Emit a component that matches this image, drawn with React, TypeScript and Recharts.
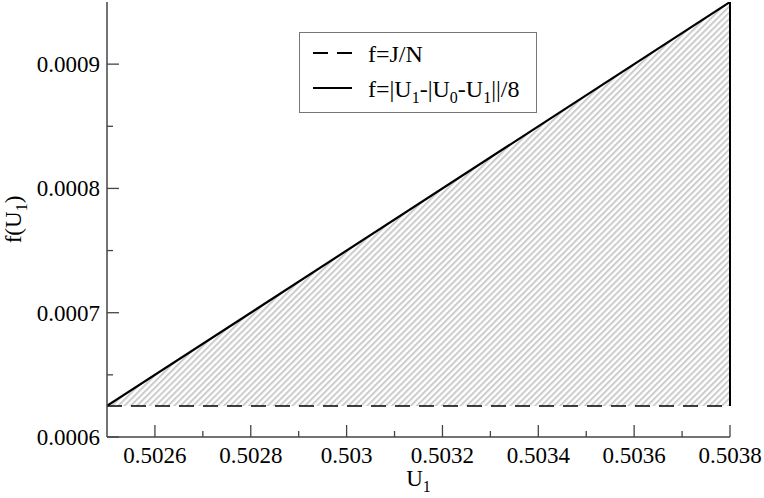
import React from 'react';
import { ComposedChart, Area, Line, XAxis, YAxis, ReferenceLine, Legend } from 'recharts';

// ---- data ----
const uValues = [0.5025, 0.5038];
const jOverN = [0.000625, 0.000625];
const fUpper = [0.000625, 0.00095];
const seriesNames = ['f=J/N', 'f=|U1-|U0-U1||/8'];
const xDomain = [0.5025, 0.5038];
const yDomain = [0.0006, 0.00095];
const xTicks = [0.5026, 0.5027, 0.5028, 0.5029, 0.503, 0.5031, 0.5032, 0.5033, 0.5034, 0.5035, 0.5036, 0.5037, 0.5038];
const xLabelled = [0.5026, 0.5028, 0.503, 0.5032, 0.5034, 0.5036, 0.5038];
const yTicks = [0.0006, 0.00065, 0.0007, 0.00075, 0.0008, 0.00085, 0.0009];
const yLabelled = [0.0006, 0.0007, 0.0008, 0.0009];

const data = uValues.map((u, i) => ({
  u,
  lower: jOverN[i],
  upper: fUpper[i],
  band: [jOverN[i], fUpper[i]],
}));

const FONT = 'Liberation Serif, Tinos, DejaVu Serif, serif';
const FRAME = '#444';
const MAJOR = 12;
const MINOR = 6;

const isIn = (v: number, list: number[]) => list.some((m) => Math.abs(m - v) < 1e-9);

// split "U1" style parts into subscripted tspans; the baseline is restored on the next piece
const withSubs = (s: string, size: number) => {
  const parts = s.split(/(U\d)/).filter((p) => p !== '');
  const out: any[] = [];
  const shift = Math.round(size * 0.25);
  let pending = 0;
  parts.forEach((p, i) => {
    const m = /^U(\d)$/.exec(p);
    if (m) {
      out.push(
        <tspan key={i + 'a'} dy={pending || undefined}>
          U
        </tspan>
      );
      out.push(
        <tspan key={i + 'b'} fontSize={Math.round(size * 0.68)} dy={shift}>
          {m[1]}
        </tspan>
      );
      pending = -shift;
    } else {
      out.push(
        <tspan key={i} dy={pending || undefined}>
          {p}
        </tspan>
      );
      pending = 0;
    }
  });
  return out;
};

const makeTick = (side: string, labelled: number[], showLabel: boolean) => (props: any) => {
  const { x, y, payload } = props;
  const v = payload.value;
  const major = isIn(v, labelled);
  const len = major ? MAJOR : MINOR;
  let x2 = x;
  let y2 = y;
  if (side === 'left') x2 = x + len;
  else if (side === 'right') x2 = x - len;
  else if (side === 'bottom') y2 = y - len;
  else y2 = y + len;
  let label = null;
  if (showLabel && major) {
    if (side === 'left') {
      label = (
        <text x={x - 7} y={y} dy="0.35em" textAnchor="end" fontFamily={FONT} fontSize={23} fill="#000">
          {String(v)}
        </text>
      );
    } else {
      label = (
        <text x={x} y={y + 26} textAnchor="middle" fontFamily={FONT} fontSize={23} fill="#000">
          {String(v)}
        </text>
      );
    }
  }
  return (
    <g>
      <line x1={x} y1={y} x2={x2} y2={y2} stroke={FRAME} strokeWidth={1.3} />
      {label}
    </g>
  );
};

const XLabel = (props: any) => {
  const { x, y, width } = props.viewBox;
  return (
    <text x={x + width / 2} y={y + 49} textAnchor="middle" fontFamily={FONT} fontSize={23} fill="#000">
      {withSubs('U1', 23)}
    </text>
  );
};

const YLabel = (props: any) => {
  const { y, height } = props.viewBox;
  const cx = 21;
  const cy = y + height / 2;
  return (
    <text x={cx} y={cy} textAnchor="middle" fontFamily={FONT} fontSize={23} fill="#000" transform={`rotate(-90, ${cx}, ${cy})`}>
      {withSubs('f(U1)', 23)}
    </text>
  );
};

const LegendBox = (props: any) => {
  const items = (props.payload || []).filter((p: any) => p.type !== 'none');
  return (
    <div style={{ width: 238, height: 81, boxSizing: 'border-box', border: '1.5px solid #777', background: '#fff' }}>
      <svg width={235} height={78} style={{ display: 'block' }}>
        {items.map((it: any, i: number) => {
          const ly = 20 + i * 35;
          const dash = it.payload && it.payload.strokeDasharray;
          return (
            <g key={i}>
              <line x1={13} x2={52} y1={ly} y2={ly} stroke="#000" strokeWidth={2} strokeDasharray={dash} />
              <text x={68} y={ly + 9} fontFamily={FONT} fontSize={24} fill="#000">
                {withSubs(String(it.value), 24)}
              </text>
            </g>
          );
        })}
      </svg>
    </div>
  );
};

export default function App() {
  return (
    <div style={{ position: 'absolute', left: 0, top: 0, background: '#fff' }}>
      <ComposedChart width={764} height={498} data={data} margin={{ top: 2, right: 34, bottom: 0, left: 0 }}>
        <defs>
          <pattern id="hatch" width="4.4" height="4.4" patternUnits="userSpaceOnUse" patternTransform="rotate(45)">
            <rect width="4.4" height="4.4" fill="#fff" />
            <line x1="1" y1="0" x2="1" y2="4.4" stroke="#cccccc" strokeWidth="2" />
          </pattern>
        </defs>
        <XAxis
          xAxisId="bottom"
          dataKey="u"
          type="number"
          domain={xDomain}
          ticks={xTicks}
          interval={0}
          allowDataOverflow
          height={61}
          tickSize={0}
          tickMargin={0}
          tickLine={false}
          axisLine={{ stroke: FRAME, strokeWidth: 1.5 }}
          tick={makeTick('bottom', xLabelled, true)}
          label={{ content: XLabel }}
        />
        <XAxis
          xAxisId="top"
          orientation="top"
          dataKey="u"
          type="number"
          domain={xDomain}
          ticks={xTicks}
          interval={0}
          allowDataOverflow
          height={0}
          tickSize={0}
          tickMargin={0}
          tickLine={false}
          axisLine={{ stroke: FRAME, strokeWidth: 1.5 }}
          tick={makeTick('top', xLabelled, false)}
        />
        <YAxis
          yAxisId="left"
          type="number"
          domain={yDomain}
          ticks={yTicks}
          interval={0}
          allowDataOverflow
          width={107}
          tickSize={0}
          tickMargin={0}
          tickLine={false}
          axisLine={{ stroke: FRAME, strokeWidth: 1.5 }}
          tick={makeTick('left', yLabelled, true)}
          label={{ content: YLabel }}
        />
        <YAxis
          yAxisId="right"
          orientation="right"
          type="number"
          domain={yDomain}
          ticks={yTicks}
          interval={0}
          allowDataOverflow
          width={0}
          tickSize={0}
          tickMargin={0}
          tickLine={false}
          axisLine={{ stroke: FRAME, strokeWidth: 1.5 }}
          tick={makeTick('right', yLabelled, false)}
        />
        <Legend
          layout="vertical"
          align="center"
          verticalAlign="middle"
          wrapperStyle={{ left: 299, top: 32, width: 238, height: 81 }}
          content={LegendBox}
        />
        <Area
          xAxisId="bottom"
          yAxisId="left"
          dataKey="band"
          type="linear"
          fill="url(#hatch)"
          fillOpacity={1}
          stroke="none"
          legendType="none"
          isAnimationActive={false}
        />
        <Line
          xAxisId="bottom"
          yAxisId="left"
          name={seriesNames[0]}
          dataKey="lower"
          type="linear"
          stroke="#000"
          strokeWidth={1.5}
          strokeDasharray="15 9"
          dot={false}
          isAnimationActive={false}
        />
        <Line
          xAxisId="bottom"
          yAxisId="left"
          name={seriesNames[1]}
          dataKey="upper"
          type="linear"
          stroke="#000"
          strokeWidth={2.2}
          dot={false}
          isAnimationActive={false}
        />
        <ReferenceLine
          xAxisId="bottom"
          yAxisId="left"
          segment={[
            { x: uValues[uValues.length - 1], y: jOverN[jOverN.length - 1] },
            { x: uValues[uValues.length - 1], y: fUpper[fUpper.length - 1] },
          ]}
          stroke="#000"
          strokeWidth={2}
          ifOverflow="visible"
        />
      </ComposedChart>
    </div>
  );
}
